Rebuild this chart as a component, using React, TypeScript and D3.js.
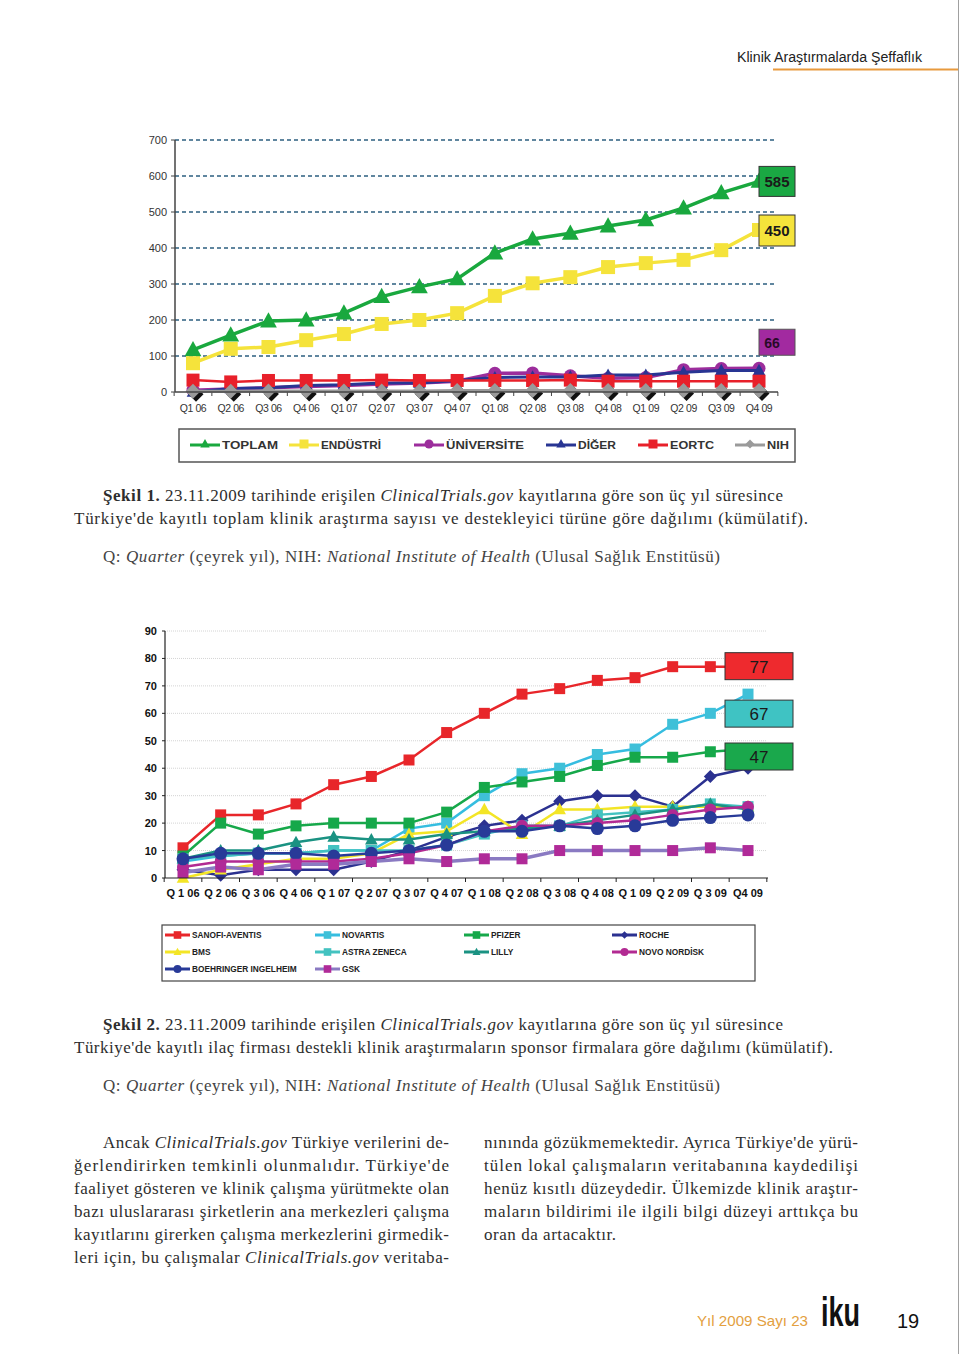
import React from 'react';
import * as d3 from 'd3';

// ---------- Chart 1 data ----------
const quarters1 = ["Q1 06","Q2 06","Q3 06","Q4 06","Q1 07","Q2 07","Q3 07","Q4 07","Q1 08","Q2 08","Q3 08","Q4 08","Q1 09","Q2 09","Q3 09","Q4 09"];
const ticks1 = [0, 100, 200, 300, 400, 500, 600, 700];
const toplam = [117, 158, 197, 200, 219, 265, 292, 314, 386, 425, 441, 461, 478, 511, 553, 585];
const endustri = [80, 120, 125, 144, 161, 189, 200, 219, 267, 302, 319, 347, 358, 367, 394, 450];
const universite = [5, 8, 12, 15, 18, 22, 25, 30, 52, 53, 45, 38, 40, 62, 65, 66];
const diger = [0, 10, 12, 18, 20, 25, 25, 32, 40, 42, 42, 47, 47, 55, 60, 60];
const eortc = [33, 28, 32, 32, 32, 33, 32, 32, 32, 32, 33, 30, 30, 30, 30, 30];
const nih = [2, 2, 3, 3, 3, 3, 3, 4, 4, 4, 4, 4, 4, 4, 4, 4];
const names1 = ["TOPLAM", "ENDÜSTRİ", "ÜNİVERSİTE", "DİĞER", "EORTC", "NIH"];

// ---------- Chart 2 data ----------
const quarters2 = ["Q 1 06","Q 2 06","Q 3 06","Q 4 06","Q 1 07","Q 2 07","Q 3 07","Q 4 07","Q 1 08","Q 2 08","Q 3 08","Q 4 08","Q 1 09","Q 2 09","Q 3 09","Q4 09"];
const ticks2 = [0, 10, 20, 30, 40, 50, 60, 70, 80, 90];
const sanofi = [11, 23, 23, 27, 34, 37, 43, 53, 60, 67, 69, 72, 73, 77, 77, 77];
const novartis = [6, 8, 9, 9, 10, 10, 18, 20, 30, 38, 40, 45, 47, 56, 60, 67];
const pfizer = [8, 20, 16, 19, 20, 20, 20, 24, 33, 35, 37, 41, 44, 44, 46, 47];
const roche = [3, 1, 3, 3, 3, 6, 10, 15, 19, 21, 28, 30, 30, 26, 37, 40];
const bms = [0, 3, 5, 7, 7, 9, 16, 17, 25, 16, 25, 25, 26, 26, 26, 26];
const astra = [7, 8, 9, 9, 10, 10, 10, 12, 16, 19, 19, 23, 24, 25, 27, 26];
const lilly = [7, 10, 10, 13, 15, 14, 14, 16, 17, 18, 19, 21, 23, 25, 27, 25];
const novo = [4, 6, 6, 6, 6, 7, 9, 12, 17, 19, 19, 20, 21, 23, 25, 26];
const boehringer = [7, 9, 9, 9, 8, 9, 10, 12, 17, 17, 19, 18, 19, 21, 22, 23];
const gsk = [2, 4, 3, 5, 5, 6, 7, 6, 7, 7, 10, 10, 10, 10, 11, 10];
const names2 = ["SANOFI-AVENTIS", "NOVARTIS", "PFIZER", "ROCHE", "BMS", "ASTRA ZENECA", "LILLY", "NOVO NORDİSK", "BOEHRINGER INGELHEIM", "GSK"];

type Shape = 'square' | 'triangle' | 'diamond' | 'circle';

function Marker({ shape, x, y, r, fill }: { shape: Shape; x: number; y: number; r: number; fill: string }) {
  if (shape === 'square') return <rect x={x - r} y={y - r} width={2 * r} height={2 * r} fill={fill} />;
  if (shape === 'circle') return <circle cx={x} cy={y} r={r} fill={fill} />;
  if (shape === 'triangle') return <path d={`M${x},${y - r * 1.1}L${x + r * 1.05},${y + r * 0.8}L${x - r * 1.05},${y + r * 0.8}Z`} fill={fill} />;
  return <path d={`M${x},${y - r}L${x + r},${y}L${x},${y + r}L${x - r},${y}Z`} fill={fill} />;
}

const sans = "'Liberation Sans', Arial, Helvetica, sans-serif";
const serif = "'Liberation Serif', 'Times New Roman', Times, serif";

type Seg = { t: string; i?: boolean; b?: boolean };
function TLine({ x, y, w, segs, fill = '#2e2e2e', size = 17 }: { x: number; y: number; w?: number; segs: Seg[]; fill?: string; size?: number }) {
  return (
    <text x={x} y={y} fontFamily={serif} fontSize={size} fill={fill} textLength={w} lengthAdjust={w ? 'spacing' : undefined}>
      {segs.map((s, k) => (
        <tspan key={k} fontStyle={s.i ? 'italic' : undefined} fontWeight={s.b ? 'bold' : undefined}>{s.t}</tspan>
      ))}
    </text>
  );
}

export default function App() {
  // Chart 1 scales
  const x1 = d3.scalePoint<string>().domain(quarters1).range([193, 759]);
  const step1 = x1.step();
  const y1 = d3.scaleLinear().domain([0, 700]).range([392, 140]);
  const line1 = (vals: number[]) => d3.line<number>().x((_, i) => x1(quarters1[i])!).y(v => y1(v))(vals)!;

  const series1 = [
    { name: names1[0], vals: toplam, color: '#19a83e', shape: 'triangle' as Shape, r: 8, w: 3.5 },
    { name: names1[1], vals: endustri, color: '#f5e33b', shape: 'square' as Shape, r: 7, w: 3.5 },
    { name: names1[2], vals: universite, color: '#9c2d9c', shape: 'circle' as Shape, r: 6.5, w: 3.5 },
    { name: names1[3], vals: diger, color: '#283593', shape: 'triangle' as Shape, r: 6, w: 3 },
    { name: names1[4], vals: eortc, color: '#e8202a', shape: 'square' as Shape, r: 6.5, w: 2.5 },
    { name: names1[5], vals: nih, color: '#9a9a9a', shape: 'diamond' as Shape, r: 7.5, w: 3 },
  ];

  // Chart 2 scales
  const x2 = d3.scalePoint<string>().domain(quarters2).range([183, 748]);
  const step2 = x2.step();
  const y2 = d3.scaleLinear().domain([0, 90]).range([878, 631]);
  const line2 = (vals: number[]) => d3.line<number>().x((_, i) => x2(quarters2[i])!).y(v => y2(v))(vals)!;

  const series2 = [
    { name: names2[0], vals: sanofi, color: '#e8262a', mcolor: '#e8262a', shape: 'square' as Shape, r: 5.5 },
    { name: names2[1], vals: novartis, color: '#35bde0', mcolor: '#3fc0d8', shape: 'square' as Shape, r: 5.5 },
    { name: names2[2], vals: pfizer, color: '#16a84a', mcolor: '#16a84a', shape: 'square' as Shape, r: 5.5 },
    { name: names2[3], vals: roche, color: '#2b3190', mcolor: '#2b3190', shape: 'diamond' as Shape, r: 6.5 },
    { name: names2[4], vals: bms, color: '#f3e526', mcolor: '#f3e526', shape: 'triangle' as Shape, r: 6 },
    { name: names2[5], vals: astra, color: '#43c2c0', mcolor: '#43c2c0', shape: 'square' as Shape, r: 5.5 },
    { name: names2[6], vals: lilly, color: '#1a9282', mcolor: '#1a9282', shape: 'triangle' as Shape, r: 6 },
    { name: names2[7], vals: novo, color: '#b22a92', mcolor: '#b22a92', shape: 'circle' as Shape, r: 6 },
    { name: names2[8], vals: boehringer, color: '#283a98', mcolor: '#283a98', shape: 'circle' as Shape, r: 6.5 },
    { name: names2[9], vals: gsk, color: '#8a7ac2', mcolor: '#b02a98', shape: 'square' as Shape, r: 5.5 },
  ];

  const legend1X = [190, 289, 414, 546, 638, 735];
  const legend1W = [56, 60, 78, 38, 44, 22];

  const legend2Col = [165, 315, 464, 612];
  const legend2Row = [935, 952, 969];

  const last = quarters1.length - 1;

  return (
    <svg width={960} height={1354} style={{ position: 'absolute', left: 0, top: 0, background: '#fff' }}>
      {/* page border line */}
      <line x1={958.5} y1={0} x2={958.5} y2={1354} stroke="#a0a0a0" strokeWidth={1} />

      {/* header */}
      <text x={737} y={62} fontFamily={"'Liberation Sans Narrow', 'Arial Narrow', " + sans} fontSize={15.5} fill="#222" textLength={185} lengthAdjust="spacingAndGlyphs">Klinik Araştırmalarda Şeffaflık</text>
      <line x1={773} y1={69.5} x2={958} y2={69.5} stroke="#e89a3e" strokeWidth={2} />

      {/* ===== Chart 1 ===== */}
      <g>
        {ticks1.filter(t => t > 0).map(t => (
          <line key={t} x1={175} x2={776} y1={y1(t)} y2={y1(t)} stroke="#2d5f80" strokeWidth={1.3} strokeDasharray="4 3" />
        ))}
        {ticks1.map(t => (
          <g key={t}>
            <text x={167} y={y1(t) + 4} textAnchor="end" fontFamily={sans} fontSize={11} fill="#333">{t}</text>
            <line x1={171} x2={175} y1={y1(t)} y2={y1(t)} stroke="#444" />
          </g>
        ))}
        <line x1={175} x2={175} y1={140} y2={392} stroke="#444" strokeWidth={1.5} />
        {quarters1.map(q => (
          <g key={q}>
            <line x1={x1(q)! - step1 / 2} x2={x1(q)! - step1 / 2} y1={392} y2={396} stroke="#444" />
            <text x={x1(q)} y={412} textAnchor="middle" fontFamily={sans} fontSize={10.5} letterSpacing={-0.4} fill="#333">{q}</text>
          </g>
        ))}
        <line x1={x1(quarters1[last])! + step1 / 2} x2={x1(quarters1[last])! + step1 / 2} y1={392} y2={396} stroke="#444" />

        {series1.map(s => (
          <g key={s.name}>
            {s.shape === 'diamond' && s.vals.map((v, i) => (
              <Marker key={'sh' + i} shape="diamond" x={x1(quarters1[i])! + 3} y={y1(v) + 3} r={s.r} fill="#111" />
            ))}
            <path d={line1(s.vals)} fill="none" stroke={s.color} strokeWidth={s.w} />
            {s.vals.map((v, i) => (
              <Marker key={i} shape={s.shape} x={x1(quarters1[i])!} y={y1(v)} r={s.r} fill={s.color} />
            ))}
          </g>
        ))}
        <line x1={175} x2={778} y1={392} y2={392} stroke="#444" strokeWidth={1.5} />

        {/* end labels */}
        <rect x={759} y={y1(toplam[last]) - 15} width={36} height={30} fill="#1aa843" stroke="#333" />
        <text x={777} y={y1(toplam[last]) + 6} textAnchor="middle" fontFamily={sans} fontSize={15} fontWeight="bold" fill="#1a1a1a">{toplam[last]}</text>
        <rect x={759} y={y1(endustri[last]) - 15} width={36} height={31} fill="#f5e33b" stroke="#333" />
        <text x={777} y={y1(endustri[last]) + 6} textAnchor="middle" fontFamily={sans} fontSize={15} fontWeight="bold" fill="#1a1a1a">{endustri[last]}</text>
        <rect x={759} y={y1(universite[last]) - 39} width={36} height={26} fill="#a22aa0" stroke="#555" />
        <text x={772} y={y1(universite[last]) - 20} textAnchor="middle" fontFamily={sans} fontSize={14} fontWeight="bold" fill="#2a0a2a">{universite[last]}</text>

        {/* legend 1 */}
        <rect x={179} y={429} width={616} height={33} fill="#fff" stroke="#555" strokeWidth={1.5} />
        {series1.map((s, k) => (
          <g key={s.name}>
            <line x1={legend1X[k]} x2={legend1X[k] + 30} y1={445} y2={445} stroke={s.color} strokeWidth={3} />
            <Marker shape={s.shape} x={legend1X[k] + 15} y={444} r={4.5} fill={s.color} />
            <text x={legend1X[k] + 32} y={449} fontFamily={sans} fontSize={11} fontWeight="bold" fill="#333" textLength={legend1W[k]} lengthAdjust="spacingAndGlyphs">{s.name}</text>
          </g>
        ))}
      </g>

      {/* caption 1 */}
      <TLine x={103} y={501} w={680} segs={[{ t: 'Şekil 1.', b: true }, { t: ' 23.11.2009 tarihinde erişilen ' }, { t: 'ClinicalTrials.gov', i: true }, { t: ' kayıtlarına göre son üç yıl süresince' }]} />
      <TLine x={74} y={524} w={734} segs={[{ t: "Türkiye'de kayıtlı toplam klinik araştırma sayısı ve destekleyici türüne göre dağılımı (kümülatif)." }]} />
      <TLine x={103} y={562} w={617} fill="#444" segs={[{ t: 'Q: ' }, { t: 'Quarter', i: true }, { t: ' (çeyrek yıl), NIH: ' }, { t: 'National Institute of Health', i: true }, { t: ' (Ulusal Sağlık Enstitüsü)' }]} />

      {/* ===== Chart 2 ===== */}
      <g>
        {ticks2.filter(t => t > 0).map(t => (
          <line key={t} x1={165} x2={767} y1={y2(t)} y2={y2(t)} stroke="#d4d4d4" strokeWidth={1} strokeDasharray="1 1" />
        ))}
        {ticks2.map(t => (
          <g key={t}>
            <text x={157} y={y2(t) + 4} textAnchor="end" fontFamily={sans} fontSize={11} fontWeight="bold" fill="#111">{t}</text>
            <line x1={162} x2={165} y1={y2(t)} y2={y2(t)} stroke="#222" />
          </g>
        ))}
        <line x1={165} x2={165} y1={631} y2={878} stroke="#222" strokeWidth={1.2} />
        {quarters2.map(q => (
          <g key={q}>
            <line x1={x2(q)! - step2 / 2} x2={x2(q)! - step2 / 2} y1={878} y2={882} stroke="#222" />
            <text x={x2(q)} y={897} textAnchor="middle" fontFamily={sans} fontSize={11} fontWeight="bold" fill="#111">{q}</text>
          </g>
        ))}
        <line x1={x2(quarters2[last])! + step2 / 2} x2={x2(quarters2[last])! + step2 / 2} y1={878} y2={882} stroke="#222" />

        {series2.map(s => (
          <g key={s.name}>
            <path d={line2(s.vals)} fill="none" stroke={s.color} strokeWidth={s.name === 'GSK' ? 3.5 : 2.5} />
            {s.vals.map((v, i) => (
              <Marker key={i} shape={s.shape} x={x2(quarters2[i])!} y={y2(v)} r={s.r} fill={s.mcolor} />
            ))}
          </g>
        ))}
        <line x1={165} x2={768} y1={878} y2={878} stroke="#222" strokeWidth={1.2} />

        {/* end labels */}
        <rect x={725} y={y2(sanofi[last]) - 14} width={68} height={27} fill="#ee2a2e" stroke="#333" />
        <text x={759} y={y2(sanofi[last]) + 6} textAnchor="middle" fontFamily={sans} fontSize={17} fill="#1a1a1a">{sanofi[last]}</text>
        <rect x={725} y={y2(novartis[last]) + 6} width={68} height={27} fill="#3fc3c3" stroke="#333" />
        <text x={759} y={y2(novartis[last]) + 26} textAnchor="middle" fontFamily={sans} fontSize={17} fill="#1a1a1a">{novartis[last]}</text>
        <rect x={725} y={y2(pfizer[last]) - 6} width={68} height={27} fill="#1aa84c" stroke="#333" />
        <text x={759} y={y2(pfizer[last]) + 14} textAnchor="middle" fontFamily={sans} fontSize={17} fill="#1a1a1a">{pfizer[last]}</text>

        {/* legend 2 */}
        <rect x={162} y={925} width={593} height={56} fill="#fff" stroke="#444" strokeWidth={1.2} />
        {series2.map((s, k) => {
          const col = k % 4;
          const row = Math.floor(k / 4);
          const lx = legend2Col[col];
          const ly = legend2Row[row];
          return (
            <g key={s.name}>
              <line x1={lx} x2={lx + 25} y1={ly} y2={ly} stroke={s.color} strokeWidth={3} />
              <Marker shape={s.shape} x={lx + 12.5} y={ly} r={s.shape === 'circle' ? 4 : 3.8} fill={s.mcolor} />
              <text x={lx + 27} y={ly + 3} fontFamily={sans} fontSize={8.3} fontWeight="bold" fill="#222">{s.name}</text>
            </g>
          );
        })}
      </g>

      {/* caption 2 */}
      <TLine x={103} y={1030} w={680} segs={[{ t: 'Şekil 2.', b: true }, { t: ' 23.11.2009 tarihinde erişilen ' }, { t: 'ClinicalTrials.gov', i: true }, { t: ' kayıtlarına göre son üç yıl süresince' }]} />
      <TLine x={74} y={1053} w={759} segs={[{ t: "Türkiye'de kayıtlı ilaç firması destekli klinik araştırmaların sponsor firmalara göre dağılımı (kümülatif)." }]} />
      <TLine x={103} y={1091} w={617} fill="#444" segs={[{ t: 'Q: ' }, { t: 'Quarter', i: true }, { t: ' (çeyrek yıl), NIH: ' }, { t: 'National Institute of Health', i: true }, { t: ' (Ulusal Sağlık Enstitüsü)' }]} />

      {/* body text */}
      <TLine x={103} y={1148} w={346} segs={[{ t: 'Ancak ' }, { t: 'ClinicalTrials.gov', i: true }, { t: ' Türkiye verilerini de-' }]} />
      <TLine x={74} y={1171} w={375} segs={[{ t: "ğerlendirirken temkinli olunmalıdır. Türkiye'de" }]} />
      <TLine x={74} y={1194} w={375} segs={[{ t: 'faaliyet gösteren ve klinik çalışma yürütmekte olan' }]} />
      <TLine x={74} y={1217} w={375} segs={[{ t: 'bazı uluslararası şirketlerin ana merkezleri çalışma' }]} />
      <TLine x={74} y={1240} w={375} segs={[{ t: 'kayıtlarını girerken çalışma merkezlerini girmedik-' }]} />
      <TLine x={74} y={1263} w={375} segs={[{ t: 'leri için, bu çalışmalar ' }, { t: 'ClinicalTrials.gov', i: true }, { t: ' veritaba-' }]} />

      <TLine x={484} y={1148} w={374} segs={[{ t: "nınında gözükmemektedir. Ayrıca Türkiye'de yürü-" }]} />
      <TLine x={484} y={1171} w={374} segs={[{ t: 'tülen lokal çalışmaların veritabanına kaydedilişi' }]} />
      <TLine x={484} y={1194} w={374} segs={[{ t: 'henüz kısıtlı düzeydedir. Ülkemizde klinik araştır-' }]} />
      <TLine x={484} y={1217} w={374} segs={[{ t: 'maların bildirimi ile ilgili bilgi düzeyi arttıkça bu' }]} />
      <TLine x={484} y={1240} w={132} segs={[{ t: 'oran da artacaktır.' }]} />

      {/* footer */}
      <text x={697} y={1326} fontFamily={sans} fontSize={15} fill="#e3a040" textLength={111} lengthAdjust="spacingAndGlyphs">Yıl 2009 Sayı 23</text>
      <text x={821} y={1326} fontFamily={sans} fontSize={40} fontWeight="bold" fill="#111" textLength={39} lengthAdjust="spacingAndGlyphs">iku</text>
      <text x={897} y={1328} fontFamily={sans} fontSize={20} fill="#111">19</text>
    </svg>
  );
}
